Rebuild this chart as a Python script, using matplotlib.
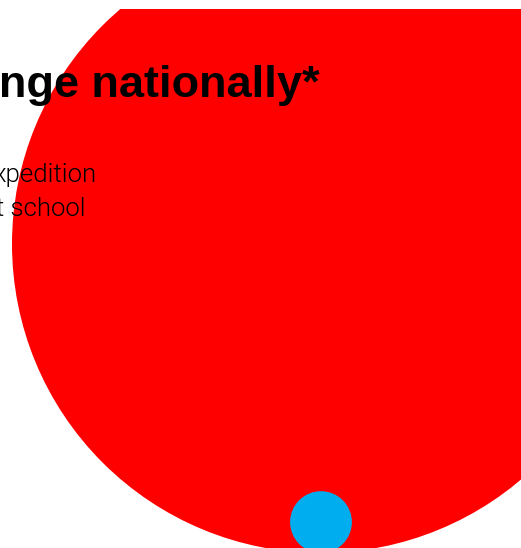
import matplotlib
matplotlib.use("Agg")
import matplotlib.pyplot as plt
from matplotlib.patches import Circle
import numpy as np

# values shown as nested circles (area ~ value), bottom aligned
labels = ["nationally", "local"]
values = [100, 1]
colors = ["#ff0000", "#00aeef"]

title = "nge nationally*"
lines = ["xpedition", "t school"]

W, H = 521, 548
fig = plt.figure(figsize=(W / 100, H / 100), dpi=100)
top = 9
ax = fig.add_axes([0, 0, 1, (H - top) / H])
ax.set_xlim(0, W)
ax.set_ylim(H, top)
ax.axis("off")

scale = 30.9      # px radius for value 1
base_y = 553      # common bottom of the circles
cx = 321
for v, c in zip(values, colors):
    r = np.sqrt(v) * scale
    ax.add_patch(Circle((cx, base_y - r), r, color=c, lw=0))

# texts, in figure pixel coords (top-left origin)
def fy(y):
    return 1 - y / H

fig.text(-1 / W, fy(97), title, fontsize=32.5, fontweight="bold",
         family=["Liberation Sans", "DejaVu Sans"], va="baseline", ha="left")
for x, y, s in zip([-7, -4], [182, 216], lines):
    fig.text(x / W, fy(y), s, fontsize=18.5, fontweight=300,
             family=["Roboto", "DejaVu Sans"], va="baseline", ha="left")

fig.savefig("out.png", dpi=100)
